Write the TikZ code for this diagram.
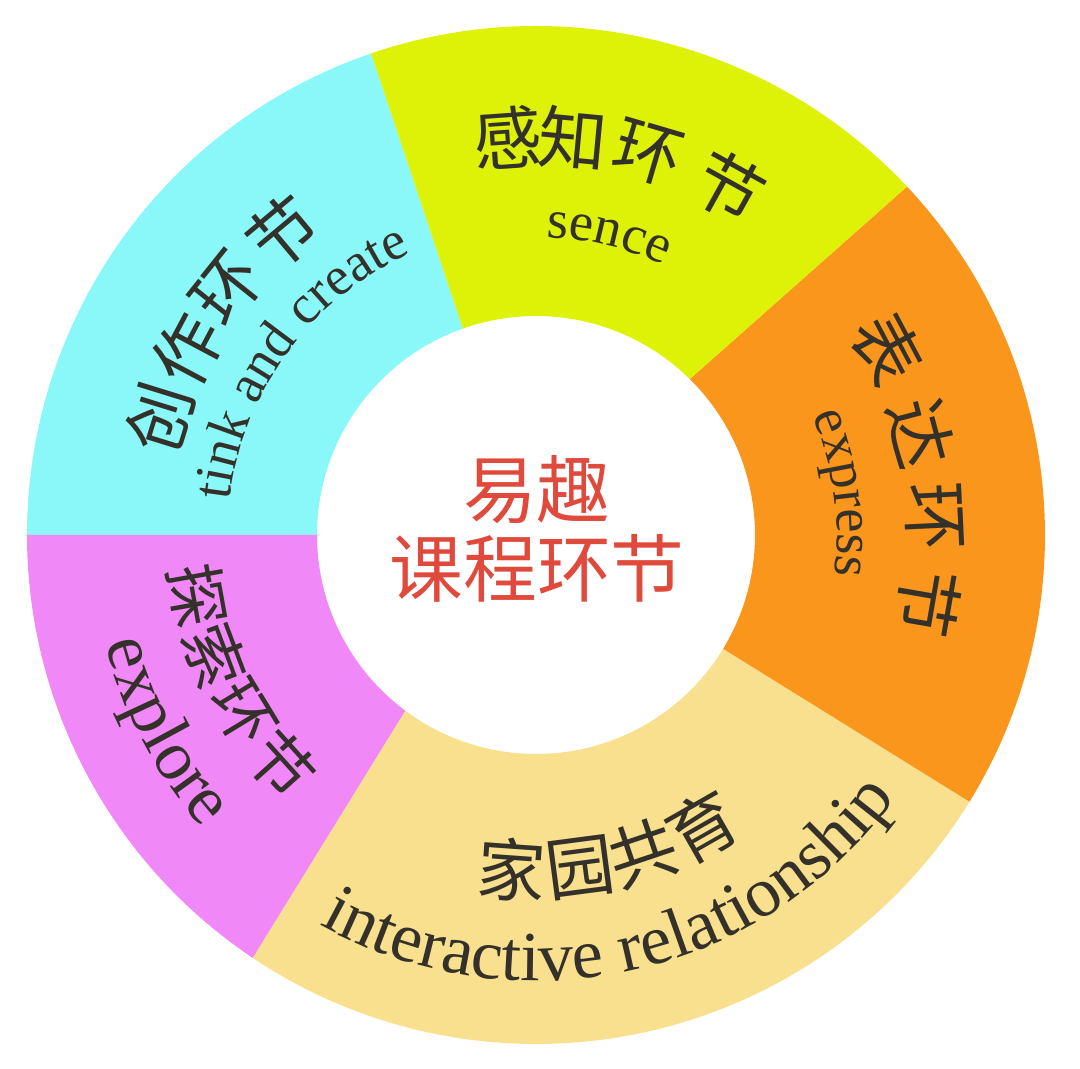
\documentclass[tikz,border=0pt]{standalone}
\usepackage{fontspec}
\setmainfont{Liberation Serif}
\newfontfamily\cjk{Noto Sans CJK SC}
\usetikzlibrary{decorations.text}

\definecolor{cyanpart}{RGB}{138,248,248}
\definecolor{limepart}{RGB}{222,242,8}
\definecolor{orangepart}{RGB}{250,150,28}
\definecolor{sandpart}{RGB}{248,224,142}
\definecolor{pinkpart}{RGB}{240,136,248}
\definecolor{ink}{RGB}{52,48,42}
\definecolor{titlered}{RGB}{224,74,60}

\begin{document}
\begin{tikzpicture}[
    zh/.style={text=ink,inner sep=0pt,font=\cjk\fontsize{19.5}{19.5}\selectfont},
    zhsmall/.style={zh,font=\cjk\fontsize{18}{18}\selectfont},
    mid/.style={text=titlered,inner sep=0pt,font=\cjk\fontsize{21}{21}\selectfont},
    small/.style={decorate,decoration={text along path,text align=center,text color=ink,
        text={|\fontsize{15.5}{15.5}\selectfont|#1}}},
    big/.style={decorate,decoration={text along path,text align=center,text color=ink,
        text={|\fontsize{20}{20}\selectfont|#1}}}]
\useasboundingbox (-5.36,-5.34) rectangle (5.44,5.35);

% ring parts
\fill[cyanpart] (108.9:5.09) arc[start angle=108.9,end angle=180,radius=5.09]
    -- (180:2.19) arc[start angle=180,end angle=109.5,radius=2.19] -- cycle;
\fill[pinkpart] (180:5.09) arc[start angle=180,end angle=236.2,radius=5.09]
    -- (233.4:2.19) arc[start angle=233.4,end angle=180,radius=2.19] -- cycle;
\fill[sandpart] (236.2:5.09) arc[start angle=236.2,end angle=328.4,radius=5.09]
    -- (328.7:2.19) arc[start angle=328.7,end angle=233.4,radius=2.19] -- cycle;
\fill[orangepart] (-31.6:5.09) arc[start angle=-31.6,end angle=43.2,radius=5.09]
    -- (45.4:2.19) arc[start angle=45.4,end angle=-31.3,radius=2.19] -- cycle;
\fill[limepart] (43.2:5.09) arc[start angle=43.2,end angle=108.9,radius=5.09]
    -- (109.5:2.19) arc[start angle=109.5,end angle=45.4,radius=2.19] -- cycle;

% centre
\node[mid] (title1) at (0.01,0.45) {易趣};
\node[mid] (title2) at (0.01,-0.33) {课程环节};

% chinese labels
\foreach \c/\a [count=\i] in {感/94,知/84.6,环/73.6,节/61}
    \node[zh,rotate=\a-90] (sense\i) at (\a:3.98) {\c};
\foreach \c/\a [count=\i] in {表/27.9,达/14.8,环/2.7,节/-9.8}
    \node[zh,rotate=\a-90] (express\i) at (\a:3.98) {\c};
\foreach \c/\a [count=\i] in {创/162.8,作/152,环/141.4,节/129.9}
    \node[zh,rotate=\a-90] (create\i) at (\a:3.94) {\c};
\foreach \c/\a [count=\i] in {探/190.2,索/200.6,环/211.3,节/222}
    \node[zhsmall,rotate=\a+90] (explore\i) at (\a:3.43) {\c};
\foreach \c/\a [count=\i] in {家/-94.1,园/-82.5,共/-71.4,育/-60.3}
    \node[zh,rotate=\a+90] (home\i) at (\a:3.36) {\c};

% english labels
\path[small=sence] (126.3:2.98) arc[start angle=126.3,end angle=26.3,radius=2.98];
\path[small=express] (57.8:3.01) arc[start angle=57.8,end angle=-42.2,radius=3.01];
\path[small=tink and create] (203.7:3.08) arc[start angle=203.7,end angle=83.7,radius=3.08];
\path[big=explore] (147.8:4.44) arc[start angle=147.8,end angle=267.8,radius=4.44];
\path[big=interactive relationship] (-157.6:4.46) arc[start angle=-157.6,end angle=2.4,radius=4.46];
\end{tikzpicture}
\end{document}
